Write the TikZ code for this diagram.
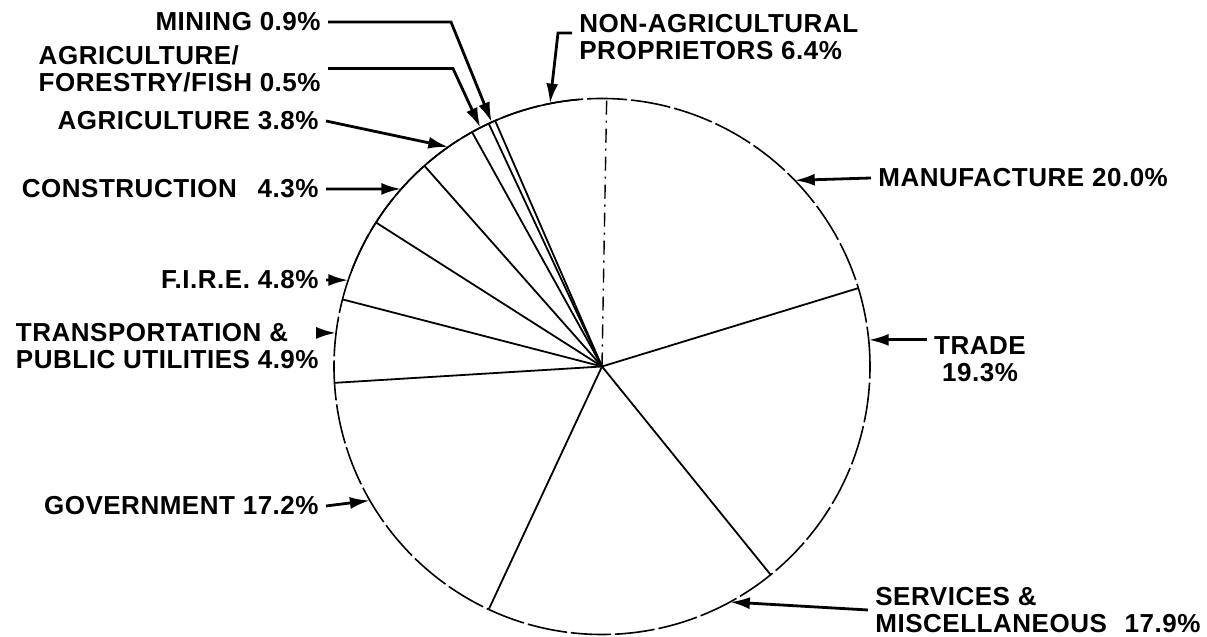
\documentclass[tikz,border=0pt]{standalone}
\usepackage{fontspec}
\setmainfont{Liberation Sans}[LetterSpace=2]
\usetikzlibrary{arrows.meta}

\begin{document}
\begin{tikzpicture}[x=0.5pt, y=0.5pt,
        rim/.style={line width=0.8pt, dash pattern=on 20pt off 2pt},
        axisline/.style={line width=0.7pt, dash pattern=on 7pt off 3pt on 1pt off 3pt},
        spoke/.style={line width=0.9pt},
        lab/.style={font=\fontsize{13}{13.5}\selectfont\bfseries, inner sep=0pt, inner xsep=3.5pt},
        arr/.style={-{Latex[length=10pt,width=6pt]}, line width=1.4pt}]
      \useasboundingbox (0,0) rectangle (1207,637);
      \coordinate (c) at (602,270.5);
      % pie outline and slices
      \draw[rim] (c) circle[radius=268];
      \draw[line width=0.8pt] (c) ++(95:268) arc[start angle=95, end angle=160, radius=268];
      \draw[axisline] (c) -- ++(89:268);
      \foreach \a in {17,-51,-115,-176.5,165.5,147.5,131.5,119,115,113.5}
        \draw[spoke] (c) -- ++(\a:268);
      % arrow tips on the rim
      \path (c) ++(114.3:268) coordinate (tmin);
      \path (c) ++(117:268) coordinate (tagff);
      \path (c) ++(125:268) coordinate (tagri);
      \path (c) ++(138.5:268) coordinate (tcon);
      \path (c) ++(161.2:268) coordinate (tfire);
      \path (c) ++(172.8:268) coordinate (ttra);
      \path (c) ++(210:268) coordinate (tgov);
      \path (c) ++(-61.5:268) coordinate (tserv);
      \path (c) ++(5.7:268) coordinate (ttrade);
      \path (c) ++(44:268) coordinate (tman);
      \path (c) ++(101.2:268) coordinate (tnon);
      % labels
      \node[lab, anchor=east] (mining) at (328,615) {MINING 0.9\%};
      \node[lab, anchor=east, align=left] (agff) at (328,568.5) {AGRICULTURE/\\FORESTRY/FISH 0.5\%};
      \node[lab, anchor=east] (agri) at (326,516) {AGRICULTURE 3.8\%};
      \node[lab, anchor=east] (constr) at (326,448) {CONSTRUCTION \enspace 4.3\%};
      \node[lab, anchor=east] (fire) at (326,357) {F.I.R.E. 4.8\%};
      \node[lab, anchor=east, align=left] (transp) at (326,290.5) {TRANSPORTATION \&\\PUBLIC UTILITIES 4.9\%};
      \node[lab, anchor=east] (gov) at (326,131) {GOVERNMENT 17.2\%};
      \node[lab, anchor=west, align=left] (serv) at (868,27) {SERVICES \&\\MISCELLANEOUS\hspace{5pt} 17.9\%};
      \node[lab, align=center] (trade) at (980,278) {TRADE\\19.3\%};
      \node[lab, anchor=west] (manuf) at (871,459) {MANUFACTURE 20.0\%};
      \node[lab, anchor=west, align=left] (nonag) at (572,599.5) {NON-AGRICULTURAL\\PROPRIETORS 6.4\%};
      % leaders
      \draw[arr] (mining.east) -- ++(123,0) -- (tmin);
      \draw[arr] (agff.east) -- ++(125,0) -- (tagff);
      \draw[arr] (agri.east) -- (tagri);
      \draw[arr] (constr.east) -- (tcon);
      \draw[arr] (fire.east) -- (tfire);
      \draw[arr] (transp.east |- ttra) -- (ttra);
      \draw[arr] (gov.east) -- (tgov);
      \draw[arr] (serv.west) -- (tserv);
      \draw[arr] (trade.west |- ttrade) -- (ttrade);
      \draw[arr] (manuf.west) -- (tman);
      \draw[arr] ([yshift=2.25pt]nonag.west) -- ++(-14,0) -- (tnon);
    \end{tikzpicture}
\end{document}
